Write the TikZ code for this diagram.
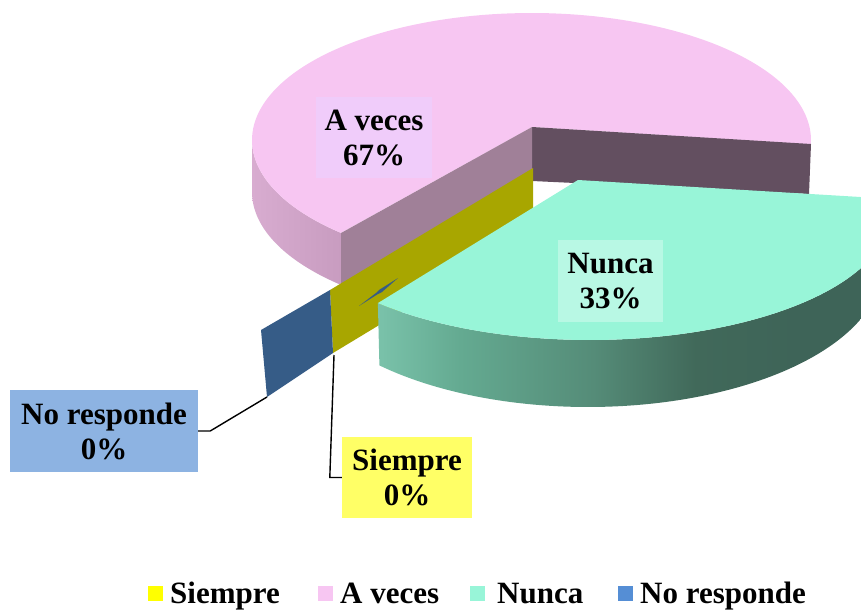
\documentclass[tikz,border=0pt]{standalone}
\usepackage{fontspec}
\setmainfont{Liberation Serif}
\definecolor{pinktop}{RGB}{247,198,242}
\definecolor{pinkwallL}{RGB}{216,172,208}
\definecolor{pinkwallR}{RGB}{200,156,192}
\definecolor{mauveface}{RGB}{160,128,152}
\definecolor{darkface}{RGB}{99,79,96}
\definecolor{yelface}{RGB}{168,166,0}
\definecolor{bluface}{RGB}{54,92,135}
\definecolor{tealtop}{RGB}{152,245,216}
\definecolor{avbox}{RGB}{240,204,250}
\definecolor{nubox}{RGB}{184,248,228}
\definecolor{nrbox}{RGB}{141,179,226}
\definecolor{sibox}{RGB}{255,255,102}
\definecolor{legyel}{RGB}{255,255,0}
\definecolor{legpink}{RGB}{247,198,242}
\definecolor{legteal}{RGB}{152,245,216}
\definecolor{legblue}{RGB}{85,142,213}
\pgfdeclarehorizontalshading{tealwallshade}{100bp}{%
  rgb(0bp)=(0.478,0.761,0.667);
  rgb(25bp)=(0.478,0.761,0.667);
  rgb(33bp)=(0.392,0.667,0.569);
  rgb(46bp)=(0.333,0.549,0.471);
  rgb(56bp)=(0.255,0.412,0.353);
  rgb(66bp)=(0.243,0.392,0.345);
  rgb(100bp)=(0.243,0.392,0.345)}
\begin{document}
\begin{tikzpicture}[x=1pt,y=-1pt,
  lbl/.style={font=\fontsize{31}{35}\selectfont\bfseries, align=center, inner sep=0pt},
  leader/.style={draw=black, line width=1.4pt},
  legtext/.style={font=\fontsize{31}{35}\selectfont\bfseries, anchor=base west, inner sep=0pt},
  swatch/.style={minimum size=15pt, inner sep=0pt}]
\useasboundingbox (0,0) rectangle (861,610);
\clip (0,0) rectangle (861,610);

% ---------- pink slice (A veces) ----------
\shade[left color=pinkwallL, right color=pinkwallR]
  plot[domain=133:180,samples=40] ({531.5+279.5*cos(\x)},{140+127*sin(\x)})
  -- plot[domain=180:133,samples=40] ({531.5+279.5*cos(\x)},{192+127*sin(\x)}) -- cycle;
\fill[pinktop] (532,127)
  -- plot[domain=133:362,samples=120] ({531.5+279.5*cos(\x)},{140+127*sin(\x)}) -- cycle;
\fill[darkface] (532,127) -- (811,144) -- (809,194) -- (532,181) -- cycle;
\fill[mauveface] (532,127) -- (341,233) -- (341,285) -- (532,179) -- cycle;

% ---------- zero slices ----------
\fill[yelface] (330,290) -- (533,168) -- (533,232) -- (333,353) -- cycle;
\fill[bluface] (261,330) -- (330,290) -- (333,353) -- (267,397) -- cycle;
\fill[bluface] (359,306) -- (376,293) -- (379,290) -- (398,278) -- (382,292) -- (378,294) -- cycle;

% ---------- teal slice (Nunca) ----------
\shade[shading=tealwallshade]
  plot[domain=-7:135,samples=100] ({590+300*cos(\x)},{214+126*sin(\x)})
  -- plot[domain=135:-7,samples=100] ({588+295*cos(\x)},{265+142*sin(\x)}) -- cycle;
\fill[tealtop] (578,180)
  -- plot[domain=-7:135,samples=100] ({590+300*cos(\x)},{214+126*sin(\x)}) -- cycle;

% ---------- connector anchors ----------
\coordinate (bluecorner) at (267,397);
\coordinate (yelcorner) at (334,355);

% ---------- labels ----------
\node[lbl, fill=avbox, minimum width=116pt, minimum height=81pt] (av) at (374,137.5) {A veces\\67\%};
\node[lbl, fill=nubox, minimum width=105pt, minimum height=82pt] (nu) at (610.5,281) {Nunca\\33\%};
\node[lbl, fill=nrbox, minimum width=188pt, minimum height=82pt] (nr) at (104,431) {No responde\\0\%};
\node[lbl, fill=sibox, minimum width=130pt, minimum height=81pt] (si) at (407,477.5) {Siempre\\0\%};

\draw[leader] (nr.east) -- ++(12,0) -- (bluecorner);
\draw[leader] (si.west) -- ++(-12,0) -- (yelcorner);

% ---------- legend ----------
\node[swatch, fill=legyel] (sw1) at (155,593) {};
\node[legtext] (lg1) at (170,603) {Siempre};
\node[swatch, fill=legpink] (sw2) at (325,593) {};
\node[legtext] (lg2) at (340,603) {A veces};
\node[swatch, fill=legteal] (sw3) at (477,593) {};
\node[legtext] (lg3) at (497,603) {Nunca};
\node[swatch, fill=legblue] (sw4) at (625,593) {};
\node[legtext] (lg4) at (640,603) {No responde};
\end{tikzpicture}
\end{document}
